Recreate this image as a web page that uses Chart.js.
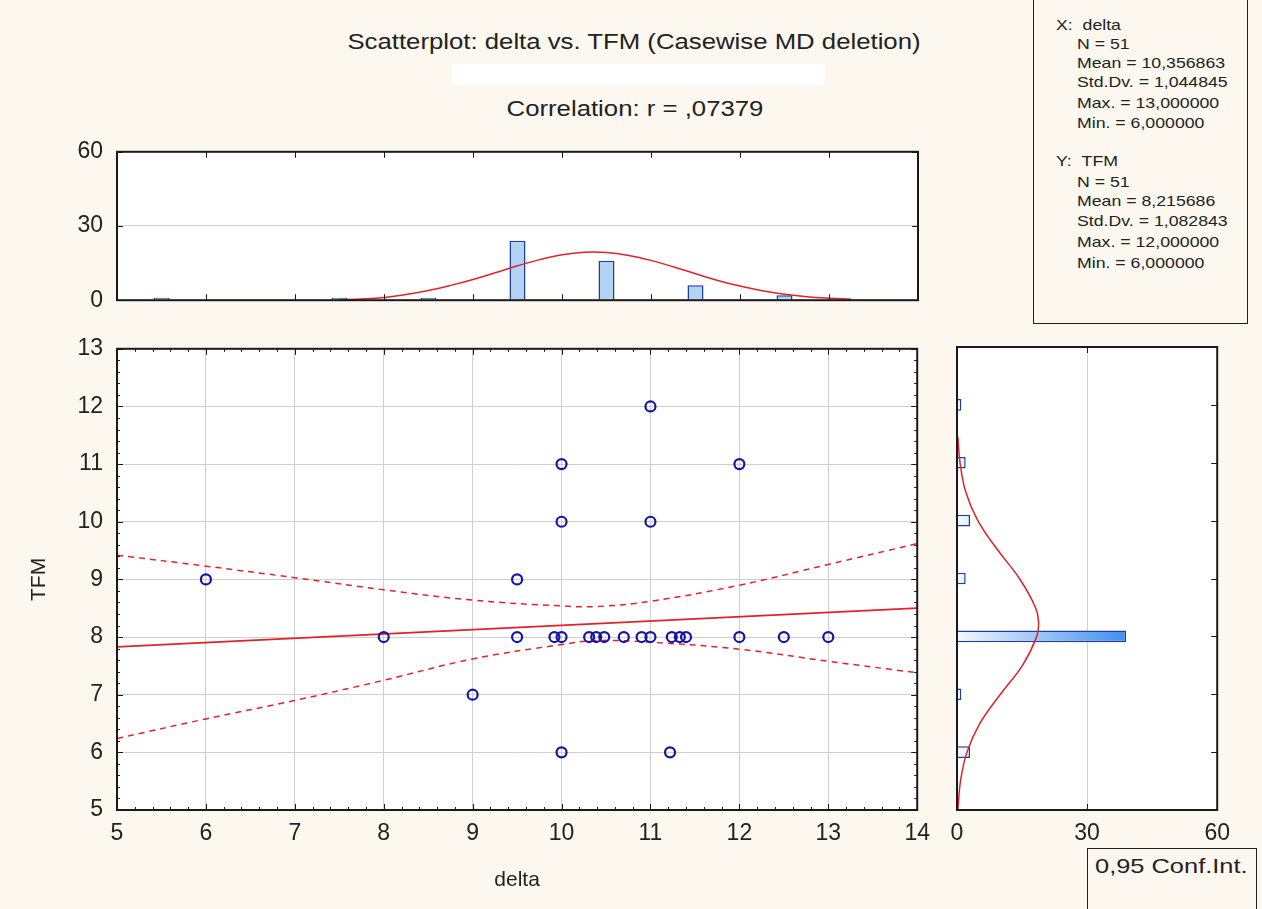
<!DOCTYPE html>
<html>
<head>
<meta charset="utf-8">
<script src="https://cdn.jsdelivr.net/npm/chart.js@4.4.1/dist/chart.umd.min.js"></script>
<style>
  body { margin: 0; width: 1262px; height: 909px; overflow: hidden; position: relative;
         background: #fcf8ef; font-family: "Liberation Sans", Arial, sans-serif; color: #222; }
  canvas { position: absolute; }
  .t { position: absolute; white-space: nowrap; line-height: 26px; }
  .c { transform: translateX(-50%) scaleX(1.17); font-size: 22px; }
  .s { font-size: 15px; line-height: 18px; transform-origin: 0 50%; transform: scaleX(1.18); }
  .box { position: absolute; border: 1.5px solid #222; box-sizing: border-box; }
</style>
</head>
<body>
<div class="t c" style="left:634px; top:29px;">Scatterplot: delta vs. TFM (Casewise MD deletion)</div>
<div style="position:absolute; left:452px; top:64px; width:373px; height:21px; background:#fff;"></div>
<div class="t c" style="left:635px; top:96px;">Correlation: r = ,07379</div>

<div class="box" style="left:1033px; top:-3px; width:215px; height:327px;"></div>
<div class="t s" style="left:1056px; top:16px;">X:&nbsp;&nbsp;delta</div>
<div class="t s" style="left:1077px; top:35px;">N = 51</div>
<div class="t s" style="left:1077px; top:54px;">Mean = 10,356863</div>
<div class="t s" style="left:1077px; top:73px;">Std.Dv. = 1,044845</div>
<div class="t s" style="left:1077px; top:94px;">Max. = 13,000000</div>
<div class="t s" style="left:1077px; top:114px;">Min. = 6,000000</div>
<div class="t s" style="left:1056px; top:152px;">Y:&nbsp;&nbsp;TFM</div>
<div class="t s" style="left:1077px; top:173px;">N = 51</div>
<div class="t s" style="left:1077px; top:192px;">Mean = 8,215686</div>
<div class="t s" style="left:1077px; top:212px;">Std.Dv. = 1,082843</div>
<div class="t s" style="left:1077px; top:233px;">Max. = 12,000000</div>
<div class="t s" style="left:1077px; top:254px;">Min. = 6,000000</div>

<div class="box" style="left:1087px; top:848px; width:170px; height:70px;"></div>
<div class="t" style="left:1095px; top:853px; font-size:21px; transform-origin:0 50%; transform:scaleX(1.21);">0,95 Conf.Int.</div>

<canvas id="top-hist" width="930" height="204" style="left:10px; top:124px;"></canvas>
<canvas id="scatter" width="930" height="588" style="left:10px; top:321px;"></canvas>
<canvas id="right-hist" width="300" height="560" style="left:940px; top:335px;"></canvas>

<script>
// scatter points (delta, TFM)
const pointDelta = [6, 8, 9, 9.5, 9.5, 9.92, 10, 10, 10, 10, 10.31, 10.39, 10.48, 10.7, 10.9, 11, 11, 11, 11.24, 11.33, 11.4, 11.22, 12, 12, 12.5, 13];
const pointTFM   = [9, 8, 7, 9,   8,   8,    8,  6,  10, 11, 8,     8,     8,     8,    8,    8,  10, 12, 8,     8,     8,    6,     8,  11, 8,    8];

// regression line and 0.95 confidence band
const fitDelta = [5, 14];
const fitTFM = [7.83, 8.50];
const bandDelta = [5, 6, 7, 8, 9, 10, 10.4, 11, 12, 13, 14];
const bandUpper = [9.42, 9.23, 9.03, 8.82, 8.64, 8.54, 8.53, 8.62, 8.90, 9.26, 9.62];
const bandLower = [6.24, 6.58, 6.90, 7.25, 7.62, 7.87, 7.94, 7.91, 7.79, 7.58, 7.38];

// histogram of delta (top)
const deltaBins = [5.5, 7.5, 8.5, 9.5, 10.5, 11.5, 12.5];
const deltaCounts = [1, 1, 1, 24, 16, 6, 2];
const deltaCurveX = [7.5, 7.75, 8, 8.25, 8.5, 8.75, 9, 9.25, 9.5, 9.75, 10, 10.25, 10.5, 10.75, 11, 11.25, 11.5, 11.75, 12, 12.25, 12.5, 12.75, 13, 13.25];
const deltaCurveN = [0.2, 0.5, 1.1, 2.3, 3.9, 6.0, 8.4, 11.1, 13.9, 16.4, 18.4, 19.4, 19.3, 18.1, 16.1, 13.5, 10.7, 8.0, 5.7, 3.8, 2.4, 1.4, 0.8, 0.4];

// histogram of TFM (right)
const tfmBins = [6, 7, 8, 9, 10, 11, 12];
const tfmCounts = [3, 1, 39, 2, 3, 2, 1];
const tfmCurveY = [5, 5.5, 6, 6.5, 7, 7.5, 8, 8.25, 8.5, 9, 9.5, 10, 10.5, 11, 11.45];
const tfmCurveN = [0.2, 0.8, 2.3, 5.3, 10.0, 15.1, 18.4, 18.8, 18.1, 14.4, 9.3, 4.8, 2.0, 0.7, 0.2];

const countTicks = [0, 30, 60];

const FONT = 'Liberation Sans';
const RED = '#e0222c';
const INK = '#1a1a1a';

// white plot area, black frame and inward tick marks
const frame = {
    id: 'frame',
    beforeDraw(chart) {
        const { ctx, chartArea: a } = chart;
        ctx.save();
        ctx.fillStyle = '#fff';
        ctx.fillRect(a.left, a.top, a.width, a.height);
        ctx.restore();
    },
    afterDraw(chart, args, opts) {
        const { ctx, chartArea: a } = chart;
        ctx.save();
        ctx.strokeStyle = INK;
        ctx.lineWidth = 1;
        (opts.marks || []).forEach(m => {
            const s = chart.scales[m.axis];
            const vals = s.ticks.map(t => t.value);
            const all = [];
            vals.forEach((v, i) => {
                all.push([v, 6]);
                if (m.minor && i < vals.length - 1) {
                    for (let k = 1; k < m.minor; k++) all.push([v + (vals[i + 1] - v) * k / m.minor, 3]);
                }
            });
            all.forEach(([v, len]) => {
                const p = Math.round(s.getPixelForValue(v)) + 0.5;
                ctx.beginPath();
                if (s.isHorizontal()) {
                    if (m.sides.includes('bottom')) { ctx.moveTo(p, a.bottom); ctx.lineTo(p, a.bottom - len); }
                    if (m.sides.includes('top')) { ctx.moveTo(p, a.top); ctx.lineTo(p, a.top + len); }
                } else {
                    if (m.sides.includes('left')) { ctx.moveTo(a.left, p); ctx.lineTo(a.left + len, p); }
                    if (m.sides.includes('right')) { ctx.moveTo(a.right, p); ctx.lineTo(a.right - len, p); }
                }
                ctx.stroke();
            });
        });
        ctx.lineWidth = 2;
        ctx.strokeRect(a.left, a.top, a.width, a.height);
        ctx.restore();
    }
};

const tickFont = { family: FONT, size: 23 };
const gridAt30 = c => (c.tick && c.tick.value === 30 ? '#d2d2d2' : 'rgba(0,0,0,0)');
const countAxisTicks = s => { s.ticks = countTicks.map(v => ({ value: v })); };

// scatter
new Chart(document.getElementById('scatter'), {
    type: 'scatter',
    data: {
        datasets: [
            {
                data: pointDelta.map((x, i) => ({ x, y: pointTFM[i] })),
                pointRadius: 5, pointBorderWidth: 2.2,
                borderColor: '#1414a8', backgroundColor: 'rgba(0,0,0,0)'
            },
            {
                data: fitDelta.map((x, i) => ({ x, y: fitTFM[i] })),
                showLine: true, pointRadius: 0, borderColor: RED, borderWidth: 1.8
            },
            {
                data: bandDelta.map((x, i) => ({ x, y: bandUpper[i] })),
                showLine: true, pointRadius: 0, borderColor: RED, borderWidth: 1.5,
                borderDash: [6, 5], tension: 0.4
            },
            {
                data: bandDelta.map((x, i) => ({ x, y: bandLower[i] })),
                showLine: true, pointRadius: 0, borderColor: RED, borderWidth: 1.5,
                borderDash: [6, 5], tension: 0.4
            }
        ]
    },
    options: {
        responsive: false,
        animation: false,
        layout: { padding: { top: 0, right: 22, left: 0, bottom: 0 } },
        scales: {
            x: {
                type: 'linear', min: 5, max: 14,
                ticks: { stepSize: 1, padding: 10, color: '#222', font: tickFont },
                grid: { color: '#cfcfcf', drawTicks: false },
                border: { display: false },
                title: { display: true, text: 'delta', color: '#222', font: { family: FONT, size: 21 }, padding: { bottom: 16 } },
                afterFit: s => { s.height = 99; }
            },
            y: {
                type: 'linear', min: 5, max: 13,
                ticks: { stepSize: 1, padding: 14, color: '#222', font: tickFont },
                grid: { color: '#cfcfcf', drawTicks: false },
                border: { display: false },
                title: { display: true, text: 'TFM', color: '#222', font: { family: FONT, size: 21 }, padding: { top: 17 } },
                afterFit: s => { s.width = 107; }
            }
        },
        plugins: {
            legend: { display: false },
            tooltip: { enabled: false },
            frame: { marks: [
                { axis: 'x', minor: 5, sides: ['bottom', 'top'] },
                { axis: 'y', minor: 5, sides: ['left', 'right'] }
            ] }
        }
    },
    plugins: [frame]
});

// top histogram (delta)
new Chart(document.getElementById('top-hist'), {
    type: 'bar',
    data: {
        datasets: [
            {
                data: deltaBins.map((x, i) => ({ x, y: deltaCounts[i] })),
                backgroundColor: '#b3d3f5', borderColor: '#1e3f9a', borderWidth: 1.5,
                barPercentage: 0.18, categoryPercentage: 1, order: 2
            },
            {
                type: 'line',
                data: deltaCurveX.map((x, i) => ({ x, y: deltaCurveN[i] })),
                borderColor: RED, borderWidth: 1.5, pointRadius: 0, tension: 0.4, order: 1
            }
        ]
    },
    options: {
        responsive: false,
        animation: false,
        layout: { padding: { top: 0, right: 22, left: 0, bottom: 0 } },
        scales: {
            x: {
                type: 'linear', min: 5, max: 14, offset: false,
                ticks: { stepSize: 1, display: false },
                grid: { display: false, drawTicks: false, offset: false },
                border: { display: false },
                afterFit: s => { s.height = 0; }
            },
            y: {
                min: 0, max: 60,
                afterBuildTicks: countAxisTicks,
                ticks: { padding: 14, color: '#222', font: tickFont },
                grid: { color: gridAt30, drawTicks: false },
                border: { display: false },
                afterFit: s => { s.width = 107; }
            }
        },
        plugins: {
            legend: { display: false },
            tooltip: { enabled: false },
            frame: { marks: [
                { axis: 'x', sides: ['bottom', 'top'] },
                { axis: 'y', sides: ['left', 'right'] }
            ] }
        }
    },
    plugins: [frame]
});

// right histogram (TFM)
new Chart(document.getElementById('right-hist'), {
    type: 'bar',
    data: {
        datasets: [
            {
                data: tfmBins.map((y, i) => ({ x: tfmCounts[i], y })),
                backgroundColor: c => {
                    const { chart } = c;
                    const a = chart.chartArea;
                    if (!a) return '#bcd8f6';
                    const g = chart.ctx.createLinearGradient(a.left, 0, chart.scales.x.getPixelForValue(40), 0);
                    g.addColorStop(0, '#f2f8fe');
                    g.addColorStop(1, '#3d8def');
                    return g;
                },
                borderColor: '#1e3f9a', borderWidth: 1.5,
                barPercentage: 0.2, categoryPercentage: 1, order: 2
            },
            {
                type: 'line',
                data: tfmCurveY.map((y, i) => ({ x: tfmCurveN[i], y })),
                borderColor: RED, borderWidth: 1.5, pointRadius: 0, tension: 0.4, order: 1
            }
        ]
    },
    options: {
        indexAxis: 'y',
        responsive: false,
        animation: false,
        layout: { padding: { top: 12, right: 22, left: 17, bottom: 0 } },
        scales: {
            x: {
                type: 'linear', min: 0, max: 60,
                afterBuildTicks: countAxisTicks,
                ticks: { padding: 10, color: '#222', font: tickFont },
                grid: { color: gridAt30, drawTicks: false },
                border: { display: false },
                afterFit: s => { s.height = 85; }
            },
            y: {
                type: 'linear', min: 5, max: 13, offset: false,
                ticks: { stepSize: 1, display: false },
                grid: { display: false, drawTicks: false, offset: false },
                border: { display: false },
                afterFit: s => { s.width = 0; }
            }
        },
        plugins: {
            legend: { display: false },
            tooltip: { enabled: false },
            frame: { marks: [
                { axis: 'x', sides: ['bottom', 'top'] },
                { axis: 'y', sides: ['right'] }
            ] }
        }
    },
    plugins: [frame]
});
</script>
</body>
</html>
